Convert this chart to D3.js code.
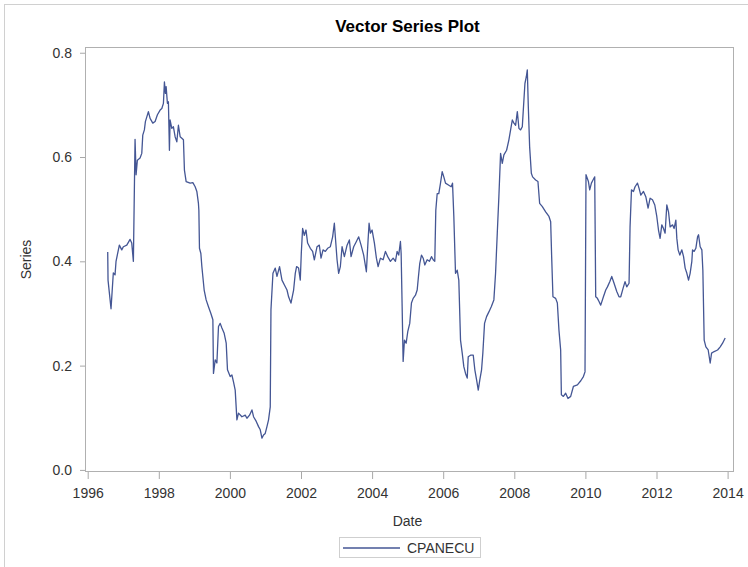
<!DOCTYPE html>
<html>
<head>
  <style>
    body { margin: 0; background: #fff; font-family: "Liberation Sans", Arial, sans-serif; }
    svg text { fill: #333; }
    .tick line { stroke: #a8a8a8; }
  </style>
</head>
<body>
<script src="https://d3js.org/d3.v7.min.js"></script>
<div id="chart"></div>
<script>
  // Series: decimal year and value
  const dates = [
    1996.563, 1996.572, 1996.656, 1996.721, 1996.769, 1996.797, 1996.890, 1996.958, 1997.003, 1997.099,
    1997.192, 1997.239, 1997.285, 1997.332, 1997.361, 1997.397, 1997.473, 1997.521, 1997.549, 1997.594,
    1997.623, 1997.707, 1997.755, 1997.831, 1997.896, 1997.961, 1998.037, 1998.085, 1998.130, 1998.158,
    1998.186, 1998.206, 1998.242, 1998.270, 1998.299, 1998.318, 1998.366, 1998.411, 1998.459, 1998.507,
    1998.552, 1998.600, 1998.648, 1998.693, 1998.721, 1998.769, 1998.882, 1998.958, 1999.023, 1999.070,
    1999.115, 1999.127, 1999.144, 1999.183, 1999.211, 1999.276, 1999.332, 1999.397, 1999.465, 1999.521,
    1999.538, 1999.586, 1999.634, 1999.679, 1999.727, 1999.775, 1999.839, 1999.896, 1999.932, 2000.008,
    2000.056, 2000.101, 2000.149, 2000.197, 2000.242, 2000.338, 2000.431, 2000.479, 2000.552, 2000.620,
    2000.665, 2000.741, 2000.806, 2000.854, 2000.901, 2000.946, 2000.994, 2001.042, 2001.087, 2001.135,
    2001.155, 2001.211, 2001.276, 2001.324, 2001.397, 2001.465, 2001.530, 2001.606, 2001.651, 2001.718,
    2001.792, 2001.839, 2001.876, 2001.932, 2001.980, 2002.008, 2002.045, 2002.093, 2002.141, 2002.186,
    2002.262, 2002.327, 2002.375, 2002.451, 2002.515, 2002.563, 2002.620, 2002.685, 2002.749, 2002.825,
    2002.890, 2002.938, 2002.966, 2003.014, 2003.059, 2003.107, 2003.155, 2003.220, 2003.296, 2003.361,
    2003.408, 2003.482, 2003.558, 2003.623, 2003.690, 2003.763, 2003.839, 2003.887, 2003.915, 2003.952,
    2004.000, 2004.065, 2004.121, 2004.169, 2004.234, 2004.310, 2004.375, 2004.439, 2004.515, 2004.592,
    2004.656, 2004.704, 2004.749, 2004.797, 2004.817, 2004.845, 2004.873, 2004.910, 2004.958, 2005.003,
    2005.059, 2005.107, 2005.155, 2005.220, 2005.268, 2005.304, 2005.341, 2005.389, 2005.437, 2005.482,
    2005.549, 2005.614, 2005.670, 2005.718, 2005.763, 2005.792, 2005.831, 2005.876, 2005.924, 2005.972,
    2006.017, 2006.065, 2006.158, 2006.225, 2006.262, 2006.299, 2006.346, 2006.394, 2006.439, 2006.487,
    2006.535, 2006.580, 2006.628, 2006.676, 2006.704, 2006.769, 2006.845, 2006.890, 2006.938, 2006.986,
    2007.031, 2007.079, 2007.115, 2007.163, 2007.220, 2007.285, 2007.352, 2007.425, 2007.473, 2007.521,
    2007.566, 2007.614, 2007.662, 2007.707, 2007.783, 2007.848, 2007.896, 2007.944, 2007.989, 2008.037,
    2008.085, 2008.130, 2008.177, 2008.225, 2008.270, 2008.299, 2008.338, 2008.366, 2008.394, 2008.431,
    2008.479, 2008.515, 2008.600, 2008.665, 2008.713, 2008.789, 2008.882, 2008.975, 2009.023, 2009.051,
    2009.087, 2009.163, 2009.211, 2009.256, 2009.304, 2009.324, 2009.380, 2009.445, 2009.510, 2009.586,
    2009.662, 2009.775, 2009.870, 2009.944, 2009.989, 2010.017, 2010.085, 2010.121, 2010.169, 2010.214,
    2010.262, 2010.290, 2010.338, 2010.383, 2010.431, 2010.507, 2010.572, 2010.620, 2010.685, 2010.741,
    2010.806, 2010.882, 2010.946, 2010.994, 2011.059, 2011.115, 2011.163, 2011.228, 2011.256, 2011.296,
    2011.352, 2011.397, 2011.465, 2011.510, 2011.558, 2011.634, 2011.699, 2011.763, 2011.820, 2011.887,
    2011.952, 2012.008, 2012.056, 2012.101, 2012.149, 2012.197, 2012.242, 2012.290, 2012.338, 2012.383,
    2012.451, 2012.496, 2012.544, 2012.572, 2012.608, 2012.656, 2012.713, 2012.761, 2012.806, 2012.854,
    2012.901, 2012.946, 2012.994, 2013.014, 2013.059, 2013.107, 2013.155, 2013.183, 2013.228, 2013.276,
    2013.304, 2013.341, 2013.389, 2013.454, 2013.510, 2013.549, 2013.623, 2013.718, 2013.792, 2013.859,
    2013.932
  ];
  const values = [
    0.418, 0.364, 0.309, 0.378, 0.374, 0.400, 0.431, 0.422, 0.428, 0.431,
    0.442, 0.435, 0.400, 0.634, 0.566, 0.594, 0.598, 0.607, 0.642, 0.652,
    0.668, 0.687, 0.674, 0.665, 0.668, 0.681, 0.690, 0.693, 0.703, 0.744,
    0.722, 0.735, 0.703, 0.706, 0.613, 0.671, 0.655, 0.658, 0.639, 0.629,
    0.661, 0.639, 0.636, 0.633, 0.575, 0.553, 0.550, 0.551, 0.543, 0.534,
    0.511, 0.498, 0.425, 0.415, 0.390, 0.345, 0.326, 0.313, 0.300, 0.288,
    0.185, 0.211, 0.205, 0.275, 0.281, 0.272, 0.262, 0.243, 0.192, 0.179,
    0.182, 0.169, 0.153, 0.096, 0.109, 0.102, 0.105, 0.099, 0.105, 0.115,
    0.102, 0.093, 0.083, 0.077, 0.061, 0.067, 0.070, 0.083, 0.096, 0.121,
    0.307, 0.377, 0.387, 0.371, 0.390, 0.364, 0.355, 0.345, 0.332, 0.320,
    0.345, 0.377, 0.390, 0.387, 0.364, 0.415, 0.463, 0.450, 0.460, 0.435,
    0.425, 0.419, 0.403, 0.428, 0.431, 0.406, 0.422, 0.419, 0.425, 0.428,
    0.447, 0.473, 0.447, 0.403, 0.377, 0.390, 0.428, 0.409, 0.431, 0.441,
    0.409, 0.428, 0.438, 0.447, 0.431, 0.412, 0.380, 0.441, 0.473, 0.454,
    0.460, 0.435, 0.406, 0.390, 0.406, 0.403, 0.419, 0.409, 0.400, 0.406,
    0.400, 0.419, 0.412, 0.438, 0.415, 0.313, 0.208, 0.249, 0.243, 0.265,
    0.281, 0.320, 0.329, 0.335, 0.345, 0.371, 0.396, 0.412, 0.406, 0.393,
    0.403, 0.400, 0.409, 0.403, 0.400, 0.498, 0.530, 0.530, 0.550, 0.572,
    0.562, 0.550, 0.546, 0.543, 0.550, 0.486, 0.377, 0.383, 0.364, 0.249,
    0.224, 0.198, 0.185, 0.176, 0.217, 0.220, 0.220, 0.192, 0.173, 0.153,
    0.173, 0.192, 0.224, 0.281, 0.294, 0.303, 0.313, 0.326, 0.377, 0.454,
    0.524, 0.607, 0.588, 0.604, 0.613, 0.633, 0.652, 0.671, 0.665, 0.661,
    0.687, 0.655, 0.652, 0.658, 0.709, 0.741, 0.754, 0.767, 0.697, 0.620,
    0.569, 0.562, 0.556, 0.553, 0.511, 0.505, 0.495, 0.486, 0.476, 0.409,
    0.332, 0.329, 0.320, 0.268, 0.230, 0.144, 0.141, 0.147, 0.137, 0.141,
    0.160, 0.163, 0.171, 0.179, 0.188, 0.566, 0.553, 0.537, 0.550, 0.556,
    0.562, 0.332, 0.329, 0.323, 0.316, 0.332, 0.345, 0.351, 0.361, 0.371,
    0.358, 0.342, 0.332, 0.332, 0.348, 0.361, 0.351, 0.358, 0.466, 0.537,
    0.534, 0.543, 0.550, 0.540, 0.527, 0.534, 0.524, 0.502, 0.521, 0.518,
    0.508, 0.486, 0.460, 0.444, 0.470, 0.463, 0.454, 0.508, 0.495, 0.466,
    0.470, 0.463, 0.479, 0.444, 0.422, 0.412, 0.422, 0.409, 0.387, 0.377,
    0.364, 0.377, 0.400, 0.422, 0.419, 0.425, 0.447, 0.451, 0.428, 0.422,
    0.383, 0.249, 0.236, 0.230, 0.205, 0.224, 0.227, 0.230, 0.236, 0.243,
    0.253
  ];
  const xTicks = [1996, 1998, 2000, 2002, 2004, 2006, 2008, 2010, 2012, 2014];
  const yTicks = [0.0, 0.2, 0.4, 0.6, 0.8];
  const seriesName = "CPANECU";

  const W = 748, H = 567;
  const plot = { left: 85, right: 734, top: 47, bottom: 472 };
  const lineColor = "#445694";
  const frameColor = "#b0b0b0";

  const data = dates.map((d, i) => ({ date: d, value: values[i] }));

  const svg = d3.select("#chart").append("svg")
    .attr("width", W)
    .attr("height", H);

  // outer border of the graph
  svg.append("rect")
    .attr("x", 4.5).attr("y", 4.5)
    .attr("width", W + 20).attr("height", H + 20)
    .attr("fill", "none")
    .attr("stroke", "#d0d0d0");

  // scales (with SAS-like offset padding around the data)
  const x = d3.scaleLinear()
    .domain([1995.924, 2014.18])
    .range([plot.left, plot.right]);
  const y = d3.scaleLinear()
    .domain([-0.004, 0.811])
    .range([plot.bottom, plot.top]);

  // title
  svg.append("text")
    .attr("x", (plot.left + plot.right) / 2 - 2)
    .attr("y", 32)
    .attr("text-anchor", "middle")
    .style("font-size", "17px")
    .style("font-weight", "bold")
    .style("fill", "#000")
    .text("Vector Series Plot");

  // axes
  const xAxis = svg.append("g")
    .attr("transform", `translate(0,${plot.bottom})`)
    .call(d3.axisBottom(x).tickValues(xTicks).tickFormat(d3.format("d")).tickSize(7).tickPadding(9));
  const yAxis = svg.append("g")
    .attr("transform", `translate(${plot.left},0)`)
    .call(d3.axisLeft(y).tickValues(yTicks).tickFormat(d3.format(".1f")).tickSize(5).tickPadding(8));
  [xAxis, yAxis].forEach(g => {
    g.select(".domain").remove();
    g.selectAll("text").style("font-size", "14px").style("font-family", "'Liberation Sans', Arial, sans-serif").style("fill", "#333");
  });

  // frame of the plot area
  svg.append("rect")
    .attr("x", plot.left + 0.5).attr("y", plot.top + 0.5)
    .attr("width", plot.right - plot.left - 1)
    .attr("height", plot.bottom - plot.top - 1)
    .attr("fill", "none")
    .attr("stroke", frameColor);

  // the series
  const line = d3.line()
    .x(d => x(d.date))
    .y(d => y(d.value));

  svg.append("path")
    .datum(data)
    .attr("fill", "none")
    .attr("stroke", lineColor)
    .attr("stroke-width", 1.3)
    .attr("stroke-linejoin", "round")
    .attr("d", line);

  // axis labels
  svg.append("text")
    .attr("x", (plot.left + plot.right) / 2 - 2)
    .attr("y", 526)
    .attr("text-anchor", "middle")
    .style("font-size", "14px")
    .text("Date");

  svg.append("text")
    .attr("transform", `translate(31,${(plot.top + plot.bottom) / 2}) rotate(-90)`)
    .attr("text-anchor", "middle")
    .style("font-size", "14px")
    .text("Series");

  // legend
  const legend = svg.append("g");
  legend.append("rect")
    .attr("x", 339.5).attr("y", 537.5)
    .attr("width", 141).attr("height", 20)
    .attr("fill", "#fff")
    .attr("stroke", "#cfcfcf");
  legend.append("line")
    .attr("x1", 343).attr("x2", 400)
    .attr("y1", 548).attr("y2", 548)
    .attr("stroke", lineColor)
    .attr("stroke-width", 1.3);
  legend.append("text")
    .attr("x", 407).attr("y", 553)
    .style("font-size", "14px")
    .text(seriesName);
</script>
</body>
</html>
